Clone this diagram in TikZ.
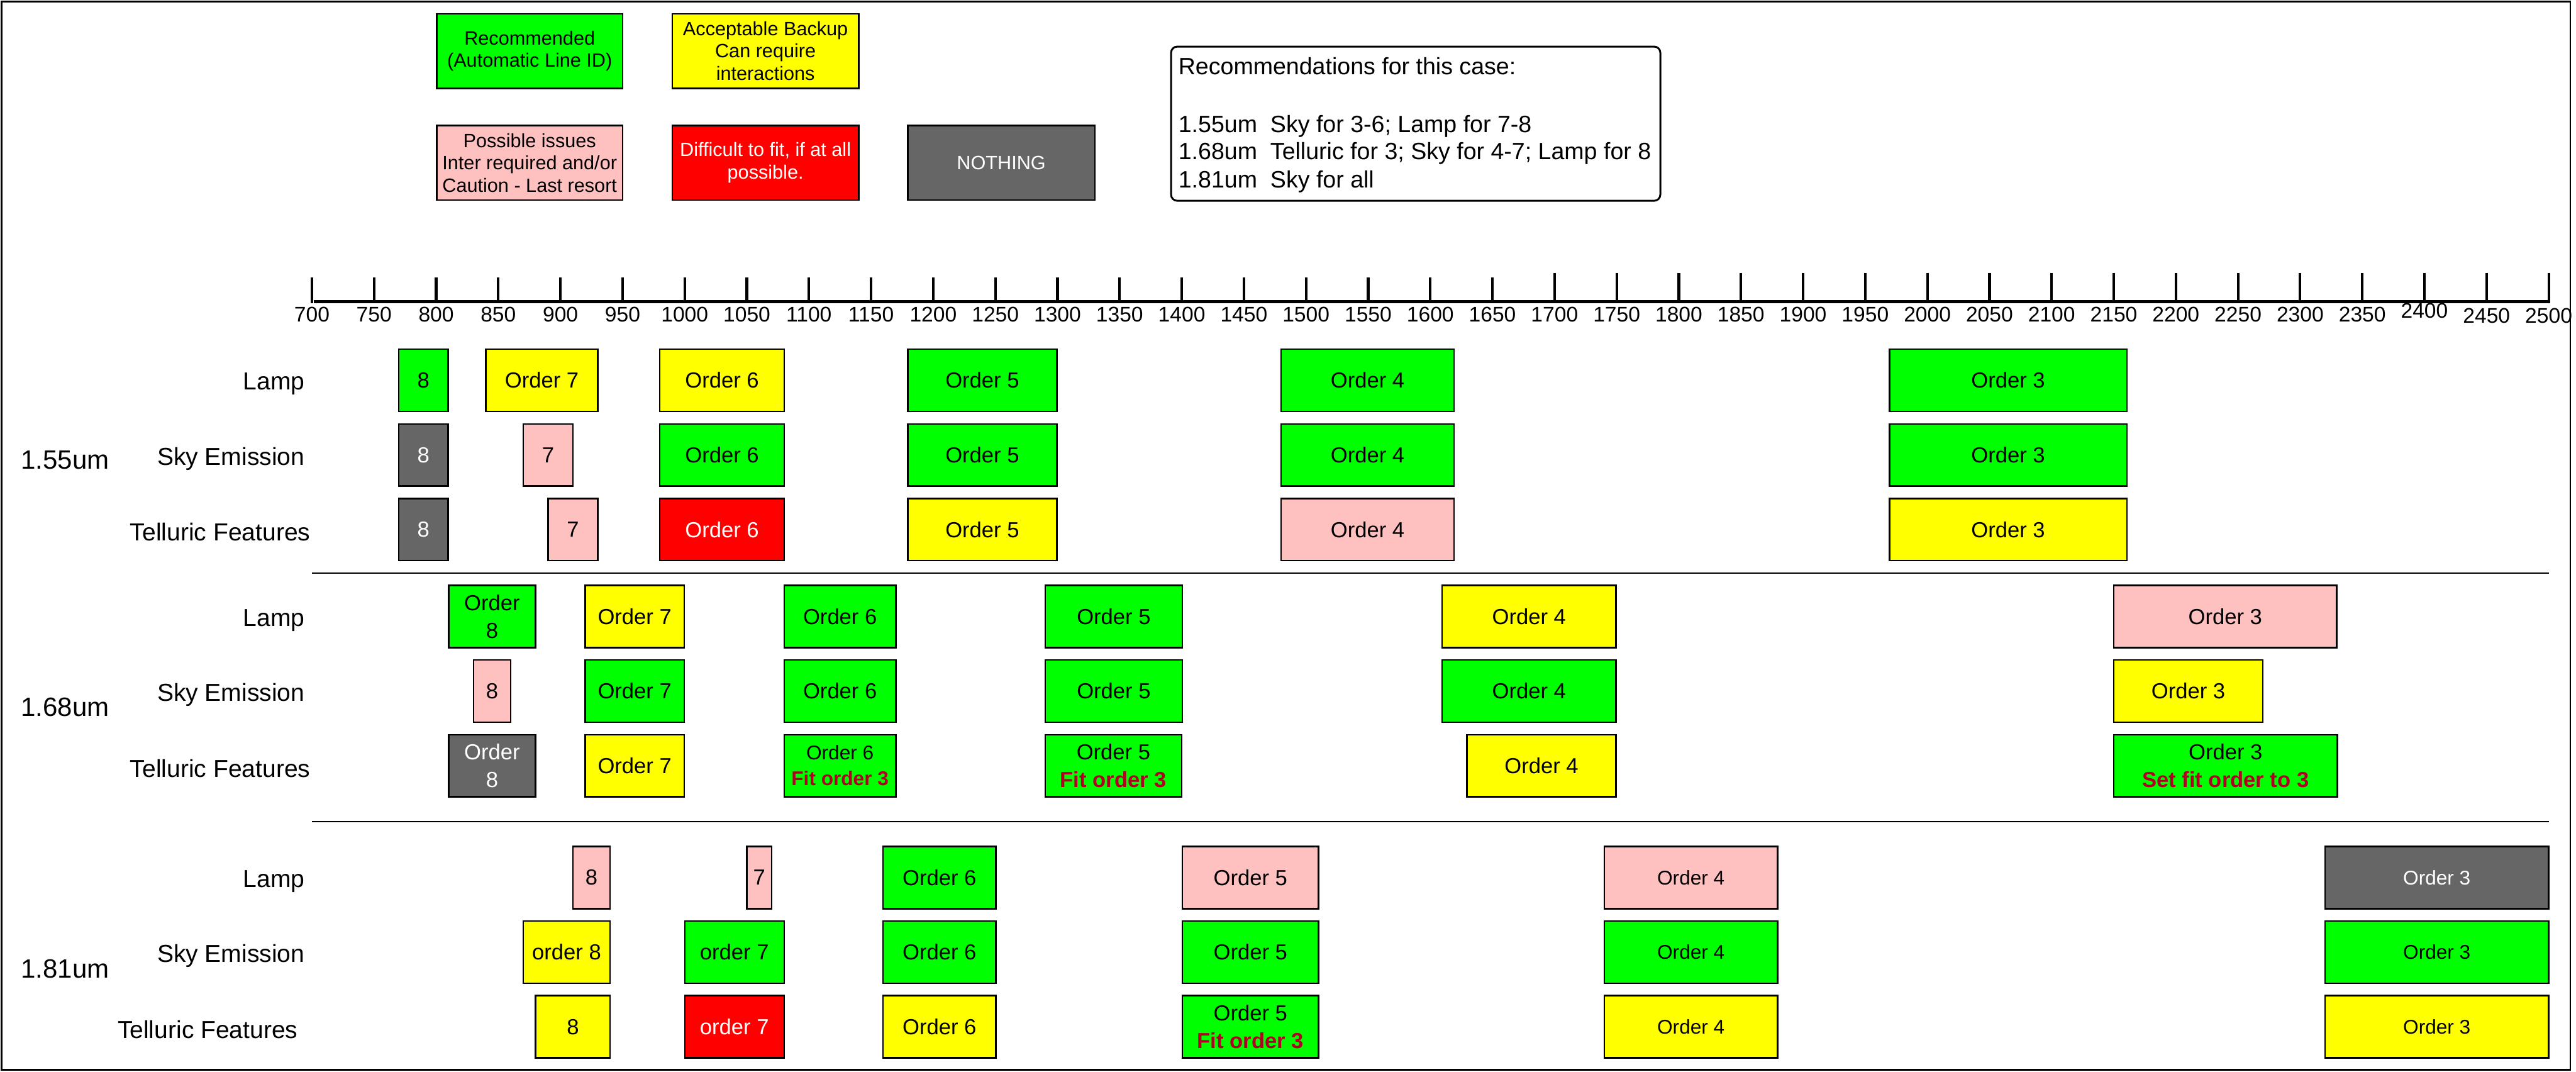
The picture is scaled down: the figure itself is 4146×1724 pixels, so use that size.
\documentclass[tikz,border=0pt]{standalone}
\usepackage{fontspec}
\setmainfont{Liberation Sans}
\definecolor{cgreen}{RGB}{0,255,0}
\definecolor{cyellow}{RGB}{255,255,0}
\definecolor{cpink}{RGB}{255,192,192}
\definecolor{cred}{RGB}{255,0,0}
\definecolor{cgray}{RGB}{102,102,102}
\definecolor{fitred}{RGB}{176,0,36}
\newcommand\fsTick{\fontsize{9.67pt}{11.6pt}\selectfont}
\newcommand\fsBox{\fontsize{9.96pt}{12.8pt}\selectfont}
\newcommand\fsSmall{\fontsize{9.1pt}{11.8pt}\selectfont}
\newcommand\fsLab{\fontsize{11.24pt}{13.5pt}\selectfont}
\newcommand\fsSec{\fontsize{12.1pt}{14.5pt}\selectfont}
\newcommand\fsLeg{\fontsize{8.82pt}{10.24pt}\selectfont}
\newcommand\fsRec{\fontsize{10.81pt}{13pt}\selectfont}
\newcommand\fitr[1]{\textcolor{fitred}{\bfseries #1}}
\newcommand\ob[7]{\node[ordbox,#6,minimum width={(#4-#2)*0.01cm},minimum height={(#5-#3)*0.01cm}] (#1) at ({(#2+#4)/2},{(#3+#5)/2}) {#7};}
\begin{document}
\begin{tikzpicture}[x=0.01cm,y=-0.01cm,
  ordbox/.style={draw=black,line width=0.7pt,inner sep=0pt,outer sep=0pt,align=center,font=\fsBox},
  fG/.style={fill=cgreen},
  fY/.style={fill=cyellow},
  fP/.style={fill=cpink},
  fR/.style={fill=cred,text=white},
  fK/.style={fill=cgray,text=white},
  sm/.style={font=\fsSmall},
  leg/.style={font=\fsLeg},
  lab/.style={anchor=east,inner sep=0pt,font=\fsLab},
  sec/.style={anchor=west,inner sep=0pt,font=\fsSec},
  tk/.style={anchor=base,inner sep=0pt,font=\fsTick},
  rect/.style={anchor=base west,inner sep=0pt,font=\fsRec},
  ticks/.style={line width=1.2pt},
  sepline/.style={line width=0.55pt}]
\useasboundingbox (0,0) rectangle (4146,1724);
\draw[line width=0.75pt] (2.5,2.5) rectangle (4137,1721.5);

% legend
\ob{lg1}{703}{22}{1002}{142}{fG,leg}{Recommended\\(Automatic Line ID)}
\ob{lg2}{1082}{22}{1382}{142}{fY,leg}{Acceptable Backup\\Can require\\interactions}
\ob{lg3}{703}{202}{1002}{322}{fP,leg}{Possible issues\\Inter required and/or\\Caution - Last resort}
\ob{lg4}{1082}{202}{1382}{322}{fR,leg}{Difficult to fit, if at all\\possible.}
\ob{lg5}{1461}{202}{1762}{322}{fK,leg}{NOTHING}

% recommendations
\node[draw,line width=0.85pt,rounded corners=0.1cm,inner sep=0pt,minimum width=7.87cm,minimum height=2.48cm] (rec) at (2278.5,199) {};
\node[rect] (r0) at (1896,120) {Recommendations for this case:};
\node[rect] (r1) at (1896,213) {1.55um\ \ Sky for 3-6; Lamp for 7-8};
\node[rect] (r2) at (1896,257) {1.68um\ \ Telluric for 3; Sky for 4-7; Lamp for 8};
\node[rect] (r3) at (1896,302) {1.81um\ \ Sky for all};

% axis
\coordinate (ax0) at (505,485);
\coordinate (ax1) at (4102,485);
\draw[line width=1.45pt] (ax0) -- (ax1);
\foreach \l in {700,750,...,2500}{
  \pgfmathsetmacro\xx{502+2*(\l-700)}
  \pgfmathsetmacro\yt{\l<1700 ? 446 : 439}
  \pgfmathsetmacro\yb{\l==2400 ? 512 : (\l>2400 ? 520 : 518)}
  \draw[ticks] (\xx,\yt) -- (\xx,488);
  \node[tk] (t\l) at (\xx,\yb) {\l};
}

% separators
\coordinate (sp1a) at (502,922); \coordinate (sp1b) at (4102,922);
\coordinate (sp2a) at (502,1322); \coordinate (sp2b) at (4102,1322);
\draw[sepline] (sp1a) -- (sp1b);
\draw[sepline] (sp2a) -- (sp2b);

% section labels
\node[sec] (s1) at (33,740) {1.55um};
\node[sec] (s2) at (33,1138) {1.68um};
\node[sec] (s3) at (33,1559) {1.81um};

% row labels
\node[lab] (l1a) at (491,618) {Lamp};
\node[lab] (l1b) at (491,738) {Sky Emission};
\node[lab] (l1c) at (500,856) {Telluric Features};
\node[lab] (l2a) at (491,998) {Lamp};
\node[lab] (l2b) at (491,1118) {Sky Emission};
\node[lab] (l2c) at (500,1236) {Telluric Features};
\node[lab] (l3a) at (491,1418) {Lamp};
\node[lab] (l3b) at (491,1538) {Sky Emission};
\node[lab] (l3c) at (480,1656) {Telluric Features};

% 1.55um
\ob{a1}{642}{562}{721}{662}{fG}{8}
\ob{a2}{782}{562}{962}{662}{fY}{Order 7}
\ob{a3}{1062}{562}{1262}{662}{fY}{Order 6}
\ob{a4}{1461}{562}{1701}{662}{fG}{Order 5}
\ob{a5}{2062}{562}{2340}{662}{fG}{Order 4}
\ob{a6}{3041}{562}{3423}{662}{fG}{Order 3}
\ob{b1}{642}{682}{721}{782}{fK}{8}
\ob{b2}{842}{682}{922}{782}{fP}{7}
\ob{b3}{1062}{682}{1262}{782}{fG}{Order 6}
\ob{b4}{1461}{682}{1701}{782}{fG}{Order 5}
\ob{b5}{2062}{682}{2340}{782}{fG}{Order 4}
\ob{b6}{3041}{682}{3423}{782}{fG}{Order 3}
\ob{c1}{642}{802}{721}{902}{fK}{8}
\ob{c2}{882}{802}{962}{902}{fP}{7}
\ob{c3}{1062}{802}{1262}{902}{fR}{Order 6}
\ob{c4}{1461}{802}{1701}{902}{fY}{Order 5}
\ob{c5}{2062}{802}{2340}{902}{fP}{Order 4}
\ob{c6}{3041}{802}{3423}{902}{fY}{Order 3}

% 1.68um
\ob{d1}{722}{942}{862}{1042}{fG}{Order\\8}
\ob{d2}{942}{942}{1101}{1042}{fY}{Order 7}
\ob{d3}{1262}{942}{1442}{1042}{fG}{Order 6}
\ob{d4}{1682}{942}{1903}{1042}{fG}{Order 5}
\ob{d5}{2321}{942}{2601}{1042}{fY}{Order 4}
\ob{d6}{3402}{942}{3761}{1042}{fP}{Order 3}
\ob{e1}{762}{1062}{822}{1162}{fP}{8}
\ob{e2}{942}{1062}{1101}{1162}{fG}{Order 7}
\ob{e3}{1262}{1062}{1442}{1162}{fG}{Order 6}
\ob{e4}{1682}{1062}{1903}{1162}{fG}{Order 5}
\ob{e5}{2321}{1062}{2601}{1162}{fG}{Order 4}
\ob{e6}{3402}{1062}{3642}{1162}{fY}{Order 3}
\ob{f1}{722}{1182}{862}{1282}{fK}{Order\\8}
\ob{f2}{942}{1182}{1101}{1282}{fY}{Order 7}
\ob{f3}{1262}{1182}{1442}{1282}{fG,sm}{Order 6\\\fitr{Fit order 3}}
\ob{f4}{1682}{1182}{1902}{1282}{fG}{Order 5\\\fitr{Fit order 3}}
\ob{f5}{2361}{1182}{2601}{1282}{fY}{Order 4}
\ob{f6}{3402}{1182}{3762}{1282}{fG}{Order 3\\\fitr{Set fit order to 3}}

% 1.81um
\ob{g1}{922}{1362}{982}{1462}{fP}{8}
\ob{g2}{1202}{1362}{1242}{1462}{fP}{7}
\ob{g3}{1421}{1362}{1603}{1462}{fG}{Order 6}
\ob{g4}{1903}{1362}{2122}{1462}{fP}{Order 5}
\ob{g5}{2582}{1362}{2861}{1462}{fP,sm}{Order 4}
\ob{g6}{3742}{1362}{4102}{1462}{fK,sm}{Order 3}
\ob{h1}{842}{1482}{982}{1582}{fY}{order 8}
\ob{h2}{1102}{1482}{1262}{1582}{fG}{order 7}
\ob{h3}{1421}{1482}{1603}{1582}{fG}{Order 6}
\ob{h4}{1903}{1482}{2122}{1582}{fG}{Order 5}
\ob{h5}{2582}{1482}{2861}{1582}{fG,sm}{Order 4}
\ob{h6}{3742}{1482}{4102}{1582}{fG,sm}{Order 3}
\ob{i1}{862}{1602}{982}{1702}{fY}{8}
\ob{i2}{1102}{1602}{1262}{1702}{fR}{order 7}
\ob{i3}{1421}{1602}{1603}{1702}{fY}{Order 6}
\ob{i4}{1903}{1602}{2122}{1702}{fG}{Order 5\\\fitr{Fit order 3}}
\ob{i5}{2582}{1602}{2861}{1702}{fY,sm}{Order 4}
\ob{i6}{3742}{1602}{4102}{1702}{fY,sm}{Order 3}
\end{tikzpicture}
\end{document}
